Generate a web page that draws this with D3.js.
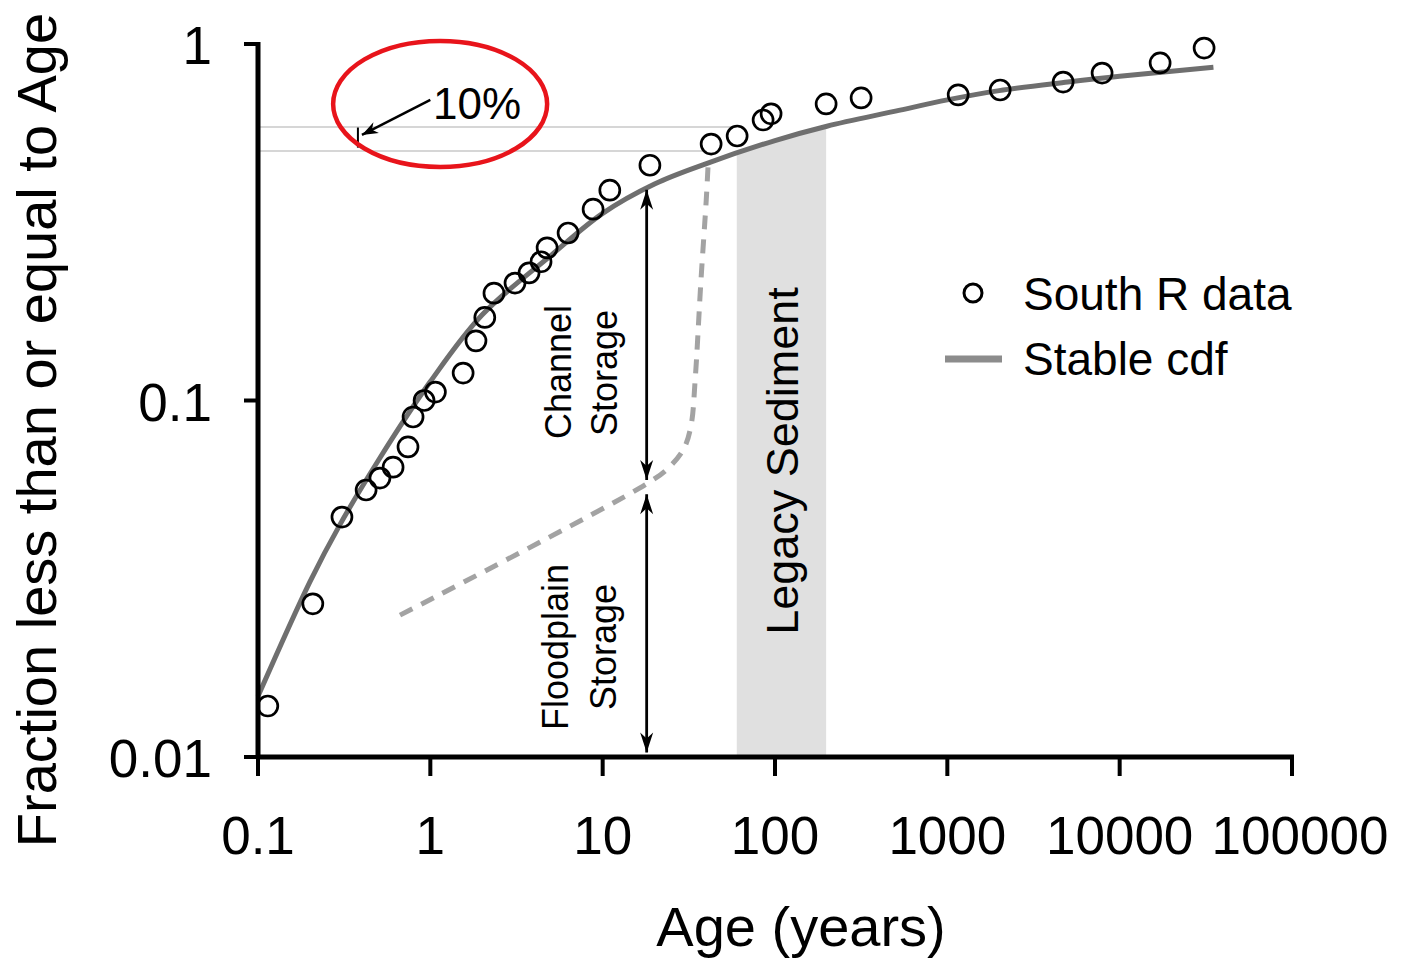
<!DOCTYPE html>
<html>
<head>
<meta charset="utf-8">
<script src="https://cdn.jsdelivr.net/npm/d3@7"></script>
<style>
  body { margin: 0; background: #fff; }
  svg { display: block; font-family: "Liberation Sans", Arial, sans-serif; }
</style>
</head>
<body>
<div id="chart"></div>
<script>
// South R data (age in years, cumulative fraction)
const dataAge = [0.114, 0.208, 0.307, 0.424, 0.51, 0.608, 0.742, 0.794, 0.92, 1.07,
  1.55, 1.84, 2.07, 2.34, 3.1, 3.74, 4.39, 4.76, 6.3, 8.8, 11.0, 18.8,
  42.6, 60.3, 85.3, 94.9, 198, 316, 1156, 2026, 4699, 7907, 17170, 30900];
const dataFrac = [0.0139, 0.0269, 0.0471, 0.0561, 0.0606, 0.065, 0.0741, 0.0899, 0.1, 0.1056,
  0.1194, 0.147, 0.171, 0.2, 0.2135, 0.228, 0.245, 0.268, 0.295, 0.344, 0.389, 0.457,
  0.524, 0.552, 0.612, 0.637, 0.679, 0.706, 0.72, 0.743, 0.782, 0.829, 0.885, 0.974];

// Stable cdf fit
const cdfAge = [0.1, 0.2, 0.3, 0.5, 1, 2, 5, 10, 20, 40, 100, 200, 500, 1000, 2000, 5000, 10000, 35000];
const cdfFrac = [0.0148, 0.031, 0.045, 0.068, 0.113, 0.174, 0.255, 0.335, 0.405, 0.462, 0.536, 0.588, 0.648, 0.697, 0.74, 0.782, 0.812, 0.86];

// dashed storage split line
const splitAge = [0.667, 17.6, 24, 29.7, 32.6, 34.4, 37.2, 39.9, 40.9];
const splitFrac = [0.025, 0.058, 0.0646, 0.0736, 0.0853, 0.114, 0.218, 0.365, 0.457];

const xTicks = [0.1, 1, 10, 100, 1000, 10000, 100000];
const xTickLabels = ["0.1", "1", "10", "100", "1000", "10000", "100000"];
const yTicks = [0.01, 0.1, 1];
const yTickLabels = ["0.01", "0.1", "1"];

const legacyRange = [60, 198];
const refLines = [{ frac: 0.585, to: 60 }, { frac: 0.501, to: 40 }];
const arrowAge = 18;
const channelSpan = [0.39, 0.0598];
const floodSpan = [0.0546, 0.0103];

const width = 1411, height = 960;
const svg = d3.select("#chart").append("svg")
  .attr("width", width)
  .attr("height", height);

const x = d3.scaleLog().domain([0.1, 100000]).range([258, 1292]);
const y = d3.scaleLog().domain([0.01, 1]).range([757, 44]);

const defs = svg.append("defs");
function addHead(id, len, half) {
  defs.append("marker")
    .attr("id", id)
    .attr("viewBox", `${-len - 1} ${-half - 1} ${len + 2} ${2 * half + 2}`)
    .attr("refX", 0).attr("refY", 0)
    .attr("markerWidth", len + 2).attr("markerHeight", 2 * half + 2)
    .attr("markerUnits", "userSpaceOnUse")
    .attr("orient", "auto-start-reverse")
    .append("path")
    .attr("d", `M0,0 L${-len},${-half} L${-len * 0.7},0 L${-len},${half} Z`)
    .attr("fill", "#000");
}
addHead("head", 20, 6.5);
addHead("smallHead", 16, 6);

const cdf = cdfAge.map((a, i) => [a, cdfFrac[i]]);
const curve = d3.curveCatmullRom.alpha(0.5);

// clip for legacy band (area under cdf)
defs.append("clipPath").attr("id", "underCdf")
  .append("path")
  .attr("d", d3.area().x(d => x(d[0])).y0(y(0.01)).y1(d => y(d[1])).curve(curve)(cdf));

svg.append("rect")
  .attr("x", x(legacyRange[0]))
  .attr("width", x(legacyRange[1]) - x(legacyRange[0]))
  .attr("y", y(1))
  .attr("height", y(0.01) - y(1))
  .attr("fill", "#e0e0e0")
  .attr("clip-path", "url(#underCdf)");

// reference lines
svg.selectAll("line.ref")
  .data(refLines)
  .join("line")
  .attr("class", "ref")
  .attr("x1", x(0.1)).attr("x2", d => x(d.to))
  .attr("y1", d => y(d.frac)).attr("y2", d => y(d.frac))
  .attr("stroke", "#d6d6d6").attr("stroke-width", 2);

// dashed split line
svg.append("path")
  .datum(splitAge.map((a, i) => [a, splitFrac[i]]))
  .attr("d", d3.line().x(d => x(d[0])).y(d => y(d[1])).curve(d3.curveCatmullRom))
  .attr("fill", "none")
  .attr("stroke", "#a3a3a3")
  .attr("stroke-width", 5)
  .attr("stroke-dasharray", "14,10");

// stable cdf
svg.append("path")
  .datum(cdf)
  .attr("d", d3.line().x(d => x(d[0])).y(d => y(d[1])).curve(curve))
  .attr("fill", "none")
  .attr("stroke", "#6f6f6f")
  .attr("stroke-width", 5);

// storage arrows
[channelSpan, floodSpan].forEach(s => {
  svg.append("line")
    .attr("x1", x(arrowAge)).attr("x2", x(arrowAge))
    .attr("y1", y(s[0])).attr("y2", y(s[1]))
    .attr("stroke", "#000").attr("stroke-width", 2.8)
    .attr("marker-start", "url(#head)")
    .attr("marker-end", "url(#head)");
});

// data points
svg.selectAll("circle.pt")
  .data(dataAge.map((a, i) => [a, dataFrac[i]]))
  .join("circle")
  .attr("class", "pt")
  .attr("cx", d => x(d[0]))
  .attr("cy", d => y(d[1]))
  .attr("r", 10)
  .attr("fill", "none")
  .attr("stroke", "#000")
  .attr("stroke-width", 2.7);

// axes
const axisG = svg.append("g");
axisG.append("line")
  .attr("x1", x(0.1)).attr("x2", x(0.1))
  .attr("y1", y(1) - 2).attr("y2", y(0.01) + 2)
  .attr("stroke", "#000").attr("stroke-width", 5);
axisG.append("line")
  .attr("x1", x(0.1) - 2).attr("x2", x(100000) + 2)
  .attr("y1", y(0.01)).attr("y2", y(0.01))
  .attr("stroke", "#000").attr("stroke-width", 5);

axisG.selectAll("line.xt")
  .data(xTicks)
  .join("line")
  .attr("class", "xt")
  .attr("x1", d => x(d)).attr("x2", d => x(d))
  .attr("y1", y(0.01)).attr("y2", y(0.01) + 19)
  .attr("stroke", "#000").attr("stroke-width", 4);
axisG.selectAll("text.xl")
  .data(xTicks)
  .join("text")
  .attr("class", "xl")
  .attr("x", d => x(d) + (d === 100000 ? 8 : 0))
  .attr("y", 854)
  .attr("text-anchor", "middle")
  .attr("font-size", 53)
  .text((d, i) => xTickLabels[i]);

axisG.selectAll("line.yt")
  .data(yTicks)
  .join("line")
  .attr("class", "yt")
  .attr("x1", x(0.1) - 14).attr("x2", x(0.1))
  .attr("y1", d => y(d)).attr("y2", d => y(d))
  .attr("stroke", "#000").attr("stroke-width", 4);
axisG.selectAll("text.yl")
  .data(yTicks)
  .join("text")
  .attr("class", "yl")
  .attr("x", 212)
  .attr("y", d => y(d) + 20)
  .attr("text-anchor", "end")
  .attr("font-size", 53)
  .text((d, i) => yTickLabels[i]);

svg.append("text")
  .attr("x", 801).attr("y", 946)
  .attr("text-anchor", "middle")
  .attr("font-size", 56)
  .text("Age (years)");

svg.append("text")
  .attr("transform", "translate(56,430) rotate(-90)")
  .attr("text-anchor", "middle")
  .attr("font-size", 56)
  .text("Fraction less than or equal to Age");

// region labels
function vlabel(px, py, size, str) {
  svg.append("text")
    .attr("transform", `translate(${px},${py}) rotate(-90)`)
    .attr("text-anchor", "middle")
    .attr("font-size", size)
    .text(str);
}
vlabel(571, 372, 36, "Channel");
vlabel(617, 373, 36, "Storage");
vlabel(568, 647, 36, "Floodplain");
vlabel(616, 647, 36, "Storage");
vlabel(798, 461, 45, "Legacy Sediment");

// 10% annotation
svg.append("line")
  .attr("x1", x(0.38)).attr("x2", x(0.38))
  .attr("y1", y(0.583)).attr("y2", y(0.512))
  .attr("stroke", "#000").attr("stroke-width", 2);
svg.append("line")
  .attr("x1", x(1)).attr("y1", y(0.697))
  .attr("x2", x(0.401)).attr("y2", y(0.556))
  .attr("stroke", "#000").attr("stroke-width", 2.5)
  .attr("marker-end", "url(#smallHead)");
svg.append("text")
  .attr("x", 433).attr("y", 119)
  .attr("font-size", 44)
  .text("10%");
svg.append("ellipse")
  .attr("cx", x(1.14)).attr("cy", y(0.679))
  .attr("rx", 107).attr("ry", 63)
  .attr("fill", "none")
  .attr("stroke", "#e8141b")
  .attr("stroke-width", 4.5);

// legend
svg.append("circle")
  .attr("cx", 973).attr("cy", 293).attr("r", 9)
  .attr("fill", "none").attr("stroke", "#000").attr("stroke-width", 3);
svg.append("text")
  .attr("x", 1023).attr("y", 310)
  .attr("font-size", 46)
  .text("South R data");
svg.append("line")
  .attr("x1", 945).attr("x2", 1002)
  .attr("y1", 359).attr("y2", 359)
  .attr("stroke", "#8c8c8c").attr("stroke-width", 7);
svg.append("text")
  .attr("x", 1023).attr("y", 375)
  .attr("font-size", 46)
  .text("Stable cdf");
</script>
</body>
</html>
